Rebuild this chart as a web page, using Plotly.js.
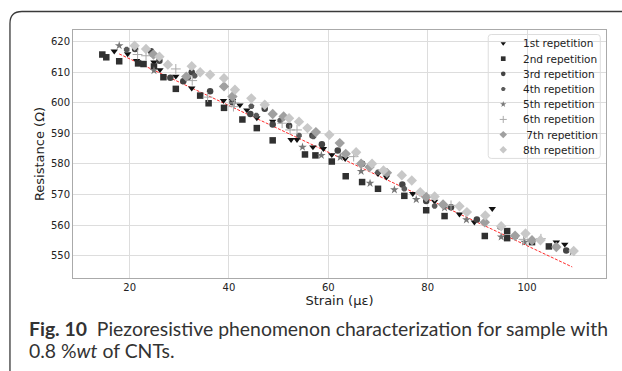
<!DOCTYPE html>
<html>
<head>
<meta charset="utf-8">
<script src="https://cdn.plot.ly/plotly-3.0.1.min.js"></script>
<style>
  html, body { margin: 0; padding: 0; background: #fff; }
  #chart { width: 622px; height: 371px; }
</style>
</head>
<body>
<div id="chart"></div>
<script>
// ---- data ----
const seriesNames = ["1st repetition", "2nd repetition", "3rd repetition", "4th repetition",
                     "5th repetition", "6th repetition", " 7th repetition", "8th repetition"];

const rep1X = [16.9, 19.6, 21.4, 24.9, 26.1, 29.3, 32.5, 38.9, 40.7, 42.2, 43.6, 45.6, 48.8, 52.5, 53.7, 56.9, 59.0, 60.7, 63.4, 70.0, 71.7, 77.0, 81.4, 86.4, 89.4, 93.0, 105.9, 107.6];
const rep1Y = [616.8, 615.9, 613.7, 613.2, 610.7, 608.6, 604.7, 600.7, 600.7, 599.2, 597.6, 595.0, 593.9, 587.9, 587.9, 585.5, 585.0, 583.0, 581.7, 576.8, 575.7, 570.3, 567.8, 563.6, 561.0, 565.4, 554.5, 553.8];

const rep2X = [14.5, 15.3, 17.9, 21.7, 22.8, 24.9, 26.8, 29.3, 34.2, 35.9, 39.0, 42.7, 45.6, 48.8, 55.3, 57.4, 60.7, 63.5, 66.8, 70.0, 75.3, 79.7, 83.4, 91.5, 96.0, 96.0, 101.0, 104.4];
const rep2Y = [615.7, 614.8, 613.5, 612.8, 612.6, 611.8, 608.3, 604.5, 602.3, 599.8, 598.3, 594.5, 591.7, 587.7, 583.1, 582.8, 580.8, 576.0, 574.1, 571.9, 569.6, 564.9, 563.0, 556.5, 558.1, 555.8, 554.5, 553.1];

const rep3X = [21.1, 24.3, 26.0, 28.2, 30.8, 32.5, 36.2, 40.7, 44.3, 47.2, 48.8, 52.1, 56.8, 58.7, 61.9, 66.8, 74.9, 79.7, 84.7, 89.9, 97.6, 107.9];
const rep3Y = [617.5, 616.8, 613.7, 608.1, 607.0, 609.9, 603.7, 600.1, 596.3, 598.0, 592.9, 592.5, 589.3, 586.4, 584.4, 580.1, 573.3, 567.9, 565.9, 561.9, 556.4, 551.8];

const rep4X = [19.4, 24.5, 31.8, 33.1, 44.5, 45.5, 50.3, 54.1, 57.0, 70.0, 75.3, 81.4, 94.6, 105.8];
const rep4Y = [617.3, 615.9, 608.1, 608.8, 598.8, 595.8, 594.2, 589.3, 589.0, 577.3, 571.9, 566.3, 559.4, 553.1];

const rep5X = [17.9, 24.9, 54.8, 58.6, 62.4, 66.6, 68.4, 73.3, 77.7, 83.4, 87.8, 94.8, 99.5, 109.1];
const rep5Y = [618.6, 610.5, 585.5, 582.8, 582.2, 577.6, 573.7, 571.6, 568.4, 565.7, 561.8, 556.2, 554.5, 551.3];

const rep6X = [21.6, 23.3, 29.3, 32.6, 35.7, 40.9, 41.1, 50.7, 52.3, 53.7, 65.1, 84.7, 99.3, 102.8];
const rep6Y = [615.7, 615.3, 611.0, 607.2, 601.8, 598.7, 599.9, 593.3, 591.1, 591.1, 582.4, 566.5, 555.4, 555.6];

const rep7X = [24.8, 31.4, 39.0, 40.7, 48.8, 51.0, 57.5, 62.3, 63.5, 66.6, 68.3, 71.8, 79.7, 83.1, 91.5, 97.6, 101.0, 105.9];
const rep7Y = [615.7, 608.5, 605.3, 602.0, 596.3, 595.5, 590.4, 586.8, 583.3, 580.1, 579.0, 577.1, 569.2, 566.8, 561.0, 556.6, 555.1, 552.9];

const rep8X = [21.0, 23.3, 26.0, 27.7, 32.5, 34.2, 36.2, 39.0, 41.2, 44.5, 47.2, 52.1, 54.1, 55.8, 60.2, 65.6, 68.8, 71.1, 74.8, 76.8, 78.5, 81.4, 86.4, 87.9, 91.6, 94.8, 99.7, 102.7, 109.4];
const rep8Y = [618.6, 617.5, 615.0, 612.4, 611.9, 609.9, 609.1, 608.0, 604.2, 601.4, 599.3, 594.9, 593.8, 591.7, 589.5, 583.8, 580.1, 577.9, 576.3, 574.6, 570.8, 569.4, 566.2, 564.3, 563.2, 559.7, 557.3, 555.1, 551.6];

const fitX = [17.9, 109.1];
const fitY = [615.9, 546.4];

const xTicks = [20, 40, 60, 80, 100];
const yTicks = [550, 560, 570, 580, 590, 600, 610, 620];

const captionLine1 = "<b>Fig. 10</b>  Piezoresistive phenomenon characterization for sample with";
const captionLine2 = "0.8 %<i>wt</i> of CNTs.";
const xTitle = "Strain (με)";
const yTitle = "Resistance (Ω)";

// ---- styles ----
const styles = [
  {symbol: "triangle-down", color: "#111111", size: 6.5},
  {symbol: "square", color: "#303030", size: 6.5},
  {symbol: "circle", color: "#444444", size: 6.5},
  {symbol: "octagon", color: "#5a5a5a", size: 6},
  {symbol: "star", color: "#777777", size: 6.5},
  {symbol: "cross-thin", color: "#aaaaaa", size: 7},
  {symbol: "diamond", color: "#a0a0a0", size: 8},
  {symbol: "diamond", color: "#c8c8c8", size: 8}
];
const xs = [rep1X, rep2X, rep3X, rep4X, rep5X, rep6X, rep7X, rep8X];
const ys = [rep1Y, rep2Y, rep3Y, rep4Y, rep5Y, rep6Y, rep7Y, rep8Y];

// plot area geometry (pixels) for frame / caption / legend placement
const L = 73, T = 29.5, R = 605.7, B = 277.7;
const W = R - L, H = B - T;
const px = v => (v - L) / W;
const py = v => (B - v) / H;

// legend geometry
const legBox = {x0: 488, x1: 600, y0: 34, y1: 158};
const legRow0 = 43, legRowStep = 15.2, legMarkX = 503, legTextX = 521;

const traces = [];
traces.push({
  x: fitX, y: fitY, mode: "lines", showlegend: false, hoverinfo: "skip",
  line: {color: "#ff2a2a", width: 1, dash: "3px,1.5px"}
});
function makeMarker(s, scale) {
  const m = {symbol: s.symbol, color: s.color, size: s.size * scale};
  m.line = s.symbol === "cross-thin" ? {color: s.color, width: 1} : {width: 0};
  return m;
}
for (let i = 0; i < 8; i++) {
  traces.push({x: xs[i], y: ys[i], name: seriesNames[i], mode: "markers", type: "scatter",
               showlegend: false, marker: makeMarker(styles[i], 1)});
}
// legend swatches (on an overlay axis spanning the plot area, 0..1)
for (let i = 0; i < 8; i++) {
  traces.push({x: [px(legMarkX)], y: [py(legRow0 + i * legRowStep)], xaxis: "x2", yaxis: "y2",
               mode: "markers", showlegend: false, hoverinfo: "skip",
               marker: makeMarker(styles[i], 0.72)});
}

const legendAnnotations = seriesNames.map((name, i) => ({
  xref: "paper", yref: "paper", x: px(legTextX), y: py(legRow0 + i * legRowStep),
  xanchor: "left", yanchor: "middle", showarrow: false, text: name,
  font: {family: "DejaVu Sans", size: 10.5, color: "#222"}
}));

const framePath = "M " + px(10) + " " + py(400) + " L " + px(10) + " " + py(23) +
  " Q " + px(10) + " " + py(11) + " " + px(22) + " " + py(11) +
  " L " + px(640) + " " + py(11);

const r = 3;
const legPath = "M " + px(legBox.x0 + r) + " " + py(legBox.y0) +
  " L " + px(legBox.x1 - r) + " " + py(legBox.y0) +
  " Q " + px(legBox.x1) + " " + py(legBox.y0) + " " + px(legBox.x1) + " " + py(legBox.y0 + r) +
  " L " + px(legBox.x1) + " " + py(legBox.y1 - r) +
  " Q " + px(legBox.x1) + " " + py(legBox.y1) + " " + px(legBox.x1 - r) + " " + py(legBox.y1) +
  " L " + px(legBox.x0 + r) + " " + py(legBox.y1) +
  " Q " + px(legBox.x0) + " " + py(legBox.y1) + " " + px(legBox.x0) + " " + py(legBox.y1 - r) +
  " L " + px(legBox.x0) + " " + py(legBox.y0 + r) +
  " Q " + px(legBox.x0) + " " + py(legBox.y0) + " " + px(legBox.x0 + r) + " " + py(legBox.y0) + " Z";

const axisCommon = {
  showgrid: true, gridcolor: "#dddddd", gridwidth: 1, zeroline: false,
  showline: true, linecolor: "#aaaaaa", linewidth: 1, mirror: true,
  ticks: "", automargin: true,
  tickfont: {family: "DejaVu Sans", size: 10, color: "#222"}
};

const layout = {
  width: 622, height: 371,
  margin: {l: L, t: T, r: 622 - R, b: 371 - B, pad: 0},
  paper_bgcolor: "#ffffff", plot_bgcolor: "#ffffff",
  font: {family: "DejaVu Sans", color: "#222"},
  xaxis: Object.assign({}, axisCommon, {
    range: [8.6, 115.9], tickvals: xTicks, ticktext: xTicks.map(String),
    title: {text: xTitle, font: {family: "DejaVu Sans", size: 13, color: "#222"}, standoff: 0}
  }),
  yaxis: Object.assign({}, axisCommon, {
    range: [542.8, 623.7], tickvals: yTicks, ticktext: yTicks.map(String),
    title: {text: yTitle, font: {family: "DejaVu Sans", size: 13, color: "#222"}, standoff: 3}
  }),
  xaxis2: {overlaying: "x", range: [0, 1], visible: false, fixedrange: true},
  yaxis2: {overlaying: "y", range: [0, 1], visible: false, fixedrange: true},
  shapes: [
    {type: "path", xref: "paper", yref: "paper", path: legPath, layer: "between",
     fillcolor: "rgba(255,255,255,0.8)", line: {color: "#dddddd", width: 1}},
    {type: "path", xref: "paper", yref: "paper", path: framePath,
     line: {color: "#3a3a3a", width: 1.3}, layer: "above"}
  ],
  annotations: [
    {xref: "paper", yref: "paper", x: px(27), y: py(328), xanchor: "left", yanchor: "middle",
     showarrow: false, text: captionLine1, font: {family: "Lato", size: 19.4, color: "#333"}},
    {xref: "paper", yref: "paper", x: px(27), y: py(350.5), xanchor: "left", yanchor: "middle",
     showarrow: false, text: captionLine2, font: {family: "Lato", size: 19.4, color: "#333"}}
  ].concat(legendAnnotations),
  showlegend: false
};

Plotly.newPlot("chart", traces, layout, {staticPlot: true, displayModeBar: false});
</script>
</body>
</html>
